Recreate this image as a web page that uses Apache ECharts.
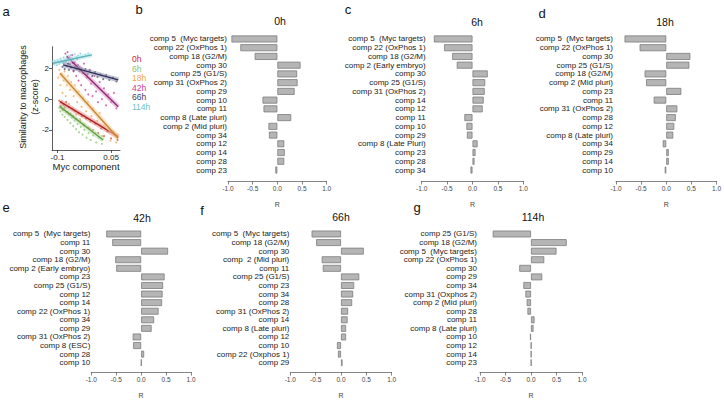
<!DOCTYPE html>
<html><head><meta charset="utf-8">
<script src="https://cdn.jsdelivr.net/npm/echarts@6/dist/echarts.min.js"></script>
<style>html,body{margin:0;padding:0;background:#fff}#c{width:724px;height:400px}</style>
</head><body><div id="c"></div>
<script>
// ---------- Panel a: scatter data ----------
const timeLabels = ['0h','6h','18h','42h','66h','114h'];
const pts_0h = [[-0.095,-0.10],[-0.092,-0.45],[-0.089,-0.20],[-0.086,-0.70],[-0.083,-0.35],[-0.080,-0.55],[-0.076,-0.20],[-0.072,-0.85],[-0.068,-0.50],[-0.064,-0.95],[-0.060,-0.60],[-0.056,-1.10],[-0.052,-0.75],[-0.047,-1.30],[-0.042,-0.90],[-0.037,-1.45],[-0.032,-1.10],[-0.026,-1.70],[-0.020,-1.25],[-0.014,-1.85],[-0.008,-1.45],[-0.001,-2.00],[0.006,-1.60],[0.014,-2.20],[0.022,-1.90],[0.030,-2.40],[0.040,-2.10],[0.050,-2.55],[0.060,-2.30],[0.068,-2.65]];
const pts_6h = [[-0.095,-0.55],[-0.092,-0.80],[-0.089,-0.45],[-0.086,-1.00],[-0.083,-0.70],[-0.080,-1.15],[-0.076,-0.85],[-0.072,-1.35],[-0.068,-1.00],[-0.064,-1.55],[-0.060,-1.20],[-0.056,-1.75],[-0.052,-1.40],[-0.048,-1.95],[-0.044,-1.60],[-0.040,-2.15],[-0.035,-1.80],[-0.030,-2.30],[-0.025,-2.00],[-0.019,-2.50],[-0.013,-2.20],[-0.007,-2.65],[0.000,-2.35],[0.008,-2.80],[0.016,-2.50],[0.024,-2.90]];
const pts_18h = [[-0.098,1.40],[-0.095,1.90],[-0.092,0.90],[-0.089,1.60],[-0.086,0.40],[-0.083,1.20],[-0.080,1.80],[-0.077,0.20],[-0.074,0.90],[-0.071,1.50],[-0.068,-0.30],[-0.065,0.60],[-0.062,1.10],[-0.058,-0.60],[-0.055,0.20],[-0.052,0.90],[-0.048,-1.00],[-0.045,-0.20],[-0.041,0.50],[-0.037,-1.30],[-0.033,-0.50],[-0.029,0.10],[-0.025,-1.60],[-0.020,-0.80],[-0.015,-0.20],[-0.010,-1.90],[-0.005,-1.10],[0.000,-0.60],[0.006,-2.20],[0.012,-1.40],[0.018,-0.90],[0.025,-2.40],[0.032,-1.70],[0.040,-2.00],[0.048,-2.70],[0.056,-2.10],[0.064,-2.80]];
const pts_42h = [[-0.078,2.95],[-0.075,2.50],[-0.072,3.05],[-0.069,2.30],[-0.066,2.70],[-0.062,2.10],[-0.059,2.85],[-0.055,1.80],[-0.052,2.40],[-0.048,1.50],[-0.045,2.60],[-0.041,1.20],[-0.038,2.10],[-0.034,0.90],[-0.030,1.70],[-0.026,2.30],[-0.022,0.60],[-0.018,1.40],[-0.014,0.30],[-0.010,1.90],[-0.006,1.00],[-0.002,0.20],[0.003,1.50],[0.008,0.50],[0.013,-0.20],[0.018,1.10],[0.024,0.00],[0.030,0.70],[0.036,-0.40],[0.042,0.30],[0.050,-0.20],[0.058,0.40],[0.065,-0.60]];
const pts_66h = [[-0.090,2.45],[-0.086,2.10],[-0.083,2.35],[-0.080,1.95],[-0.077,2.40],[-0.074,2.15],[-0.071,2.30],[-0.068,1.90],[-0.065,2.25],[-0.062,2.05],[-0.058,2.35],[-0.055,1.85],[-0.051,2.10],[-0.047,1.95],[-0.043,2.20],[-0.038,1.80],[-0.033,2.00],[-0.028,1.70],[-0.022,1.95],[-0.016,1.60],[-0.010,1.85],[-0.003,1.50],[0.005,1.75],[0.012,1.45],[0.020,1.60],[0.028,1.30],[0.036,1.55],[0.045,1.25],[0.055,1.40],[0.065,1.15]];
const pts_114h = [[-0.114,2.45],[-0.110,2.25],[-0.108,2.50],[-0.105,2.38],[-0.102,2.20],[-0.100,2.55],[-0.097,2.42],[-0.094,2.30],[-0.092,2.62],[-0.089,2.48],[-0.086,2.35],[-0.083,2.70],[-0.080,2.55],[-0.077,2.45],[-0.074,2.78],[-0.071,2.60],[-0.068,2.50],[-0.064,2.85],[-0.060,2.68],[-0.056,2.58],[-0.052,2.90],[-0.047,2.72],[-0.042,2.82],[-0.036,2.95],[-0.030,2.76],[-0.022,2.88],[-0.014,2.95]];
const fit_0h = [[-0.093,-0.16],[0.070,-2.43]];
const fit_6h = [[-0.093,-0.49],[0.028,-2.65]];
const fit_18h = [[-0.093,1.68],[0.070,-2.54]];
const fit_42h = [[-0.074,2.76],[0.070,-0.49]];
const fit_66h = [[-0.084,2.22],[0.070,1.25]];
const fit_114h = [[-0.112,2.33],[-0.004,2.87]];
const scatterXTicks = [-0.1, 0.05];
const scatterYTicks = [-2, 0, 2];

// ---------- Panels b-g: correlation bars ----------
const labels_0h = ['comp 5  (Myc targets)','comp 22 (OxPhos 1)','comp 18 (G2/M)','comp 30','comp 25 (G1/S)','comp 31 (OxPhos 2)','comp 29','comp 10','comp 11','comp 8 (Late pluri)','comp 2 (Mid pluri)','comp 34','comp 12','comp 14','comp 28','comp 23'];
const values_0h = [-0.93,-0.75,-0.46,0.47,0.40,0.41,0.35,-0.30,-0.28,0.28,-0.18,-0.17,0.14,0.15,0.14,-0.04];
const labels_6h = ['comp 5  (Myc targets)','comp 22 (OxPhos 1)','comp 18 (G2/M)','comp 2 (Early embryo)','comp 30','comp 25 (G1/S)','comp 31 (OxPhos 2)','comp 14','comp 12','comp 11','comp 10','comp 29','comp 8 (Late Pluri)','comp 23','comp 28','comp 34'];
const values_6h = [-0.76,-0.56,-0.40,-0.31,0.30,0.25,0.24,0.22,0.20,-0.16,-0.12,-0.11,0.10,0.06,0.04,-0.04];
const labels_18h = ['comp 5  (Myc targets)','comp 22 (OxPhos 1)','comp 30','comp 25 (G1/S)','comp 18 (G2/M)','comp 2 (Mid pluri)','comp 23','comp 11','comp 31 (OxPhos 2)','comp 28','comp 12','comp 8 (Late pluri)','comp 34','comp 29','comp 14','comp 10'];
const values_18h = [-0.83,-0.53,0.48,0.46,-0.43,-0.40,0.30,-0.25,0.22,0.19,0.16,0.14,-0.07,0.05,0.05,-0.03];
const labels_42h = ['comp 5  (Myc targets)','comp 11','comp 30','comp 18 (G2/M)','comp 2 (Early embryo)','comp 23','comp 25 (G1/S)','comp 12','comp 14','comp 22 (OxPhos 1)','comp 34','comp 29','comp 31 (OxPhos 2)','comp 8 (ESC)','comp 28','comp 10'];
const values_42h = [-0.70,-0.58,0.54,-0.52,-0.50,0.47,0.44,0.43,0.42,0.35,0.26,0.21,-0.17,-0.16,0.06,0.005];
const labels_66h = ['comp 5  (Myc targets)','comp 18 (G2/M)','comp 30','comp  2 (Mid pluri)','comp 11','comp 25 (G1/S)','comp 23','comp 34','comp 28','comp 31 (OxPhos 2)','comp 14','comp 8 (Late pluri)','comp 12','comp 10','comp 22 (Oxphos 1)','comp 29'];
const values_66h = [-0.58,-0.49,0.45,-0.38,-0.36,0.36,0.26,0.24,0.22,0.14,0.13,0.10,0.10,-0.08,-0.06,0.03];
const labels_114h = ['comp 25 (G1/S)','comp 18 (G2/M)','comp 5  (Myc targets)','comp 22 (OxPhos 1)','comp 30','comp 29','comp 34','comp 31 (Oxphos 2)','comp 2 (Mid pluri)','comp 28','comp 11','comp 8 (Late pluri)','comp 10','comp 12','comp 14','comp 23'];
const values_114h = [-0.75,0.70,0.50,0.26,-0.23,0.22,-0.15,-0.11,-0.085,-0.07,0.07,0.05,-0.02,0.005,0.005,0.005];
const rTicks = [-1, -0.5, 0, 0.5, 1];

// ---------- layout ----------
const W = 724, H = 400;
const panels = [
  {labels: labels_0h,  values: values_0h,  title: timeLabels[0], letter: 'b', l: 228,   r: 326.7, t: 34.6, b: 174.4, axisY: 181,   lm: 1,  tx: 280,   ty: 21,  lx: 139,   ly: 9},
  {labels: labels_6h,  values: values_6h,  title: timeLabels[1], letter: 'c', l: 421.7, r: 523.3, t: 34.6, b: 174.4, axisY: 181,   lm: -4, tx: 477,   ty: 22,  lx: 348,   ly: 9},
  {labels: labels_18h, values: values_18h, title: timeLabels[2], letter: 'd', l: 616,   r: 718.3, t: 34.6, b: 174.4, axisY: 181,   lm: 3,  tx: 665,   ty: 22,  lx: 542,   ly: 13},
  {labels: labels_42h, values: values_42h, title: timeLabels[3], letter: 'e', l: 91.3,  r: 191,   t: 229.7, b: 368.3, axisY: 373.3, lm: 1,  tx: 142,   ty: 218, lx: 6,     ly: 207},
  {labels: labels_66h, values: values_66h, title: timeLabels[4], letter: 'f', l: 290.3, r: 391.7, t: 229.7, b: 368.3, axisY: 373.3, lm: 1,  tx: 341,   ty: 217, lx: 202,   ly: 210},
  {labels: labels_114h,values: values_114h,title: timeLabels[5], letter: 'g', l: 480,   r: 582,   t: 229.7, b: 368.3, axisY: 373.3, lm: 3,  tx: 533,   ty: 217, lx: 417,   ly: 207}
];

const grids = [], xAxes = [], yAxes = [], series = [], graphics = [];
const FONT = 'Liberation Sans, Arial, Helvetica, sans-serif';

panels.forEach((p, i) => {
  grids.push({left: p.l, top: p.t, width: p.r - p.l, height: p.b - p.t});
  xAxes.push({
    type: 'value', gridIndex: i, min: -1, max: 1, interval: 0.5,
    position: 'bottom', offset: p.axisY - p.b,
    axisLine: {show: true, lineStyle: {color: '#666', width: 0.8}},
    axisTick: {show: true, length: 3.5, lineStyle: {color: '#666', width: 0.8}},
    axisLabel: {fontSize: 6.5, color: '#444', margin: 4, fontFamily: FONT, formatter: v => v.toFixed(1)},
    splitLine: {show: false},
    name: 'R', nameLocation: 'middle', nameGap: 20,
    nameTextStyle: {fontSize: 7, color: '#444', fontFamily: FONT}
  });
  yAxes.push({
    type: 'category', gridIndex: i, data: p.labels, inverse: true,
    axisLine: {show: false}, axisTick: {show: false},
    axisLabel: {fontSize: 8, color: '#222', margin: p.lm, fontFamily: FONT, interval: 0}
  });
  series.push({
    type: 'bar', xAxisIndex: i, yAxisIndex: i, data: p.values,
    barCategoryGap: '20%', silent: true,
    itemStyle: {color: '#b5b5b5', borderColor: '#7c7c7c', borderWidth: 0.8}
  });
  graphics.push({type: 'text', x: p.tx, y: p.ty, style: {text: p.title, fontSize: 10.5, fill: '#111', align: 'center', verticalAlign: 'middle', fontFamily: FONT}});
  graphics.push({type: 'text', x: p.lx, y: p.ly, style: {text: p.letter, fontSize: 13, fill: '#111', align: 'center', verticalAlign: 'middle', fontFamily: FONT}});
});

// ---------- panel a ----------
const gi = panels.length;
const sx0 = 52, sx1 = 120, sy0 = 46.7, sy1 = 150;
grids.push({left: sx0, top: sy0, width: sx1 - sx0, height: sy1 - sy0});
xAxes.push({
  type: 'value', gridIndex: gi, min: -0.1154, max: 0.075,
  axisLine: {show: true, onZero: false, lineStyle: {color: '#333', width: 0.8}},
  axisTick: {show: true, length: 3, customValues: scatterXTicks, lineStyle: {color: '#333', width: 0.8}},
  axisLabel: {fontSize: 8, color: '#222', margin: 3, customValues: scatterXTicks, fontFamily: FONT, formatter: v => String(v)},
  splitLine: {show: false},
  name: 'Myc component', nameLocation: 'middle', nameGap: 11,
  nameTextStyle: {fontSize: 9.5, color: '#222', fontFamily: FONT}
});
yAxes.push({
  type: 'value', gridIndex: gi, min: -3.3, max: 3.4,
  axisLine: {show: true, onZero: false, lineStyle: {color: '#333', width: 0.8}},
  axisTick: {show: true, length: 3, customValues: scatterYTicks, lineStyle: {color: '#333', width: 0.8}},
  axisLabel: {fontSize: 8, color: '#222', margin: 3, customValues: scatterYTicks, fontFamily: FONT},
  splitLine: {show: false}
});
const groups = [
  {pts: pts_0h,  fit: fit_0h,  pc: '#d4403f', lc: '#a82323', bc: '#e58a86', tc: '#d7263d'},
  {pts: pts_6h,  fit: fit_6h,  pc: '#8ec86f', lc: '#5f9e45', bc: '#b8dca4', tc: '#8dc26f'},
  {pts: pts_18h, fit: fit_18h, pc: '#eaa957', lc: '#c98433', bc: '#f3cd98', tc: '#efa748'},
  {pts: pts_42h, fit: fit_42h, pc: '#c9449a', lc: '#8b2a74', bc: '#dc92c2', tc: '#c93a8d'},
  {pts: pts_66h, fit: fit_66h, pc: '#44446f', lc: '#2d2d55', bc: '#8f8fad', tc: '#3c3c6e'},
  {pts: pts_114h,fit: fit_114h,pc: '#7ccdd4', lc: '#57b3bb', bc: '#b5e3e7', tc: '#6cc3cb'}
];
groups.forEach(g => {
  series.push({type: 'scatter', xAxisIndex: gi, yAxisIndex: gi, data: g.pts, symbolSize: 2, silent: true,
    itemStyle: {color: g.pc, opacity: 0.75}});
});
groups.forEach(g => {
  series.push({type: 'line', xAxisIndex: gi, yAxisIndex: gi, data: g.fit, symbol: 'none', silent: true,
    lineStyle: {color: g.bc, width: 5, opacity: 0.55}});
  series.push({type: 'line', xAxisIndex: gi, yAxisIndex: gi, data: g.fit, symbol: 'none', silent: true,
    lineStyle: {color: g.lc, width: 1.4}});
});
// legend of panel a
const legY = [59, 68.5, 78, 87.5, 97, 106.5];
groups.forEach((g, i) => {
  graphics.push({type: 'text', x: 132, y: legY[i], style: {text: timeLabels[i], fontSize: 8.5, fill: g.tc, align: 'left', verticalAlign: 'middle', fontFamily: FONT}});
});
graphics.push({type: 'text', x: 23, y: 97, rotation: Math.PI / 2, style: {text: 'Similarity to macrophages', fontSize: 9, fill: '#222', align: 'center', verticalAlign: 'middle', fontFamily: FONT}});
graphics.push({type: 'text', x: 35, y: 97, rotation: Math.PI / 2, style: {text: '(z-score)', fontSize: 9, fill: '#222', align: 'center', verticalAlign: 'middle', fontFamily: FONT}});
graphics.push({type: 'text', x: 6, y: 11, style: {text: 'a', fontSize: 13, fill: '#111', align: 'center', verticalAlign: 'middle', fontFamily: FONT}});

const chart = echarts.init(document.getElementById('c'), null, {renderer: 'svg', width: W, height: H});
chart.setOption({
  animation: false,
  backgroundColor: '#fff',
  textStyle: {fontFamily: FONT},
  grid: grids, xAxis: xAxes, yAxis: yAxes, series: series, graphic: graphics
});
</script></body></html>
